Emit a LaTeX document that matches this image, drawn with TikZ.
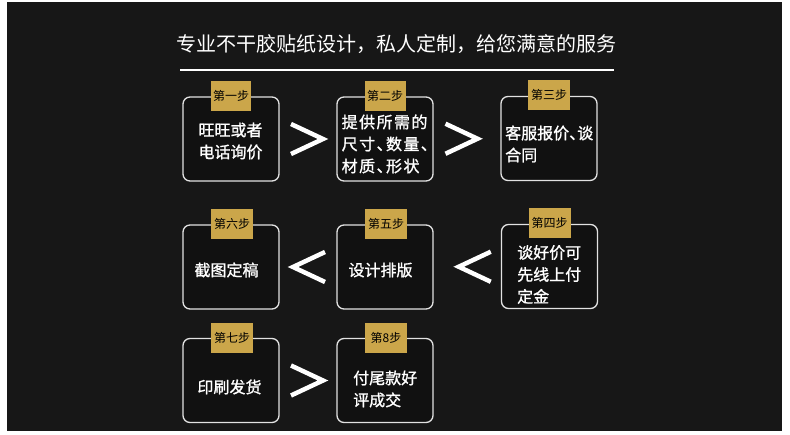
\documentclass[tikz,border=0pt]{standalone}
\usepackage{fontspec}
\setmainfont{Noto Sans CJK SC}
\newfontfamily\bodyfont[FakeBold=1.2, RawFeature=+halt]{Noto Sans CJK SC}
\newfontfamily\bodyspaced[FakeBold=1.2, RawFeature=+halt, LetterSpace=9]{Noto Sans CJK SC}
\usetikzlibrary{calc}
\definecolor{bg}{HTML}{171717}
\definecolor{gold}{HTML}{CBA64A}
\definecolor{edge}{HTML}{E2E2E2}
\begin{document}
\begin{tikzpicture}[x=1pt,y=-1pt,
  stepbox/.style={draw=edge, line width=1.3pt, rounded corners=7pt, fill=black, fill opacity=0.25, text opacity=1, minimum width=96pt, minimum height=84pt, inner sep=0pt},
  tag/.style={fill=gold, minimum width=40pt, minimum height=30pt, inner sep=0pt, font=\fontsize{12}{12}\selectfont, text=black},
  body/.style={text=white, font=\bodyfont\fontsize{16}{22}\selectfont, inner sep=0pt},
  chev/.style={draw=white, line width=4.5pt, miter limit=10},
  chevr/.pic={\draw[chev] (-17,-15) -- (15,0) -- (-17,15);},
  chevl/.pic={\draw[chev] (17,-15) -- (-15,0) -- (17,15);}
]
\useasboundingbox (0,0) rectangle (790,435);
\fill[white] (0,0) rectangle (790,435);
\fill[bg] (7,2) rectangle (782,431);

% title
\node[text=white, font=\fontsize{20}{20}\selectfont, inner sep=0pt] (title) at (396,44) {专业不干胶贴纸设计，私人定制，给您满意的服务};
\coordinate (ruleL) at (180,70);
\coordinate (ruleR) at (614,70);
\draw[white, line width=1.4pt] (ruleL) -- (ruleR);

% boxes
\node[stepbox] (b1) at (231,139) {};
\node[stepbox] (b2) at (385,139) {};
\node[stepbox] (b3) at (549,138.5) {};
\node[stepbox] (b6) at (231,267) {};
\node[stepbox] (b5) at (385,267) {};
\node[stepbox] (b4) at (549.5,266.5) {};
\node[stepbox] (b7) at (231,380.5) {};
\node[stepbox] (b8) at (385,380.5) {};

% tags
\node[tag] (g1) at (b1.north) {第一步};
\node[tag, minimum width=41pt] (g2) at (b2.north) {第二步};
\node[tag, minimum width=42pt] (g3) at ($(b3.north)+(0,-0.5)$) {第三步};
\node[tag, minimum width=42pt] (g4) at ($(b4.north)+(0,-1)$) {第四步};
\node[tag, minimum width=42pt] (g5) at ($(b5.north)+(1,-0.5)$) {第五步};
\node[tag, minimum width=42pt] (g6) at ($(b6.north)+(1,-0.5)$) {第六步};
\node[tag, minimum width=42pt] (g7) at ($(b7.north)+(1,0)$) {第七步};
\node[tag, minimum width=42pt] (g8) at ($(b8.north)+(1,0)$) {第8步};

% texts
\node[body, align=center] (t1) at (230.5,141) {旺旺或者\\电话询价};
\node[body, align=left, anchor=west, font=\bodyspaced\fontsize{16}{22}\selectfont] (t2) at (341.5,144) {提供所需的\\尺寸、数量、\\材质、形状};
\node[body, align=left, anchor=west] (t3) at (505,144) {客服报价、谈\\合同};
\node[body, align=left, anchor=west] (t4) at (517,274.5) {谈好价可\\先线上付\\定金};
\node[body] (t5) at (380.5,270) {设计排版};
\node[body] (t6) at (226.5,270) {截图定稿};
\node[body] (t7) at (229.5,387) {印刷发货};
\node[body, align=left, anchor=west] (t8) at (353,389) {付尾款好\\评成交};

% chevrons
\pic at ($(b1.east)!0.5!(b2.west)$) {chevr};
\pic at ($(b2.east)!0.5!(b3.west)+(-4.5,0)$) {chevr};
\pic at ($(b6.east)!0.5!(b5.west)$) {chevl};
\pic at ($(b5.east)!0.5!(b4.west)+(6.5,0)$) {chevl};
\pic at ($(b7.east)!0.5!(b8.west)$) {chevr};
\end{tikzpicture}
\end{document}
